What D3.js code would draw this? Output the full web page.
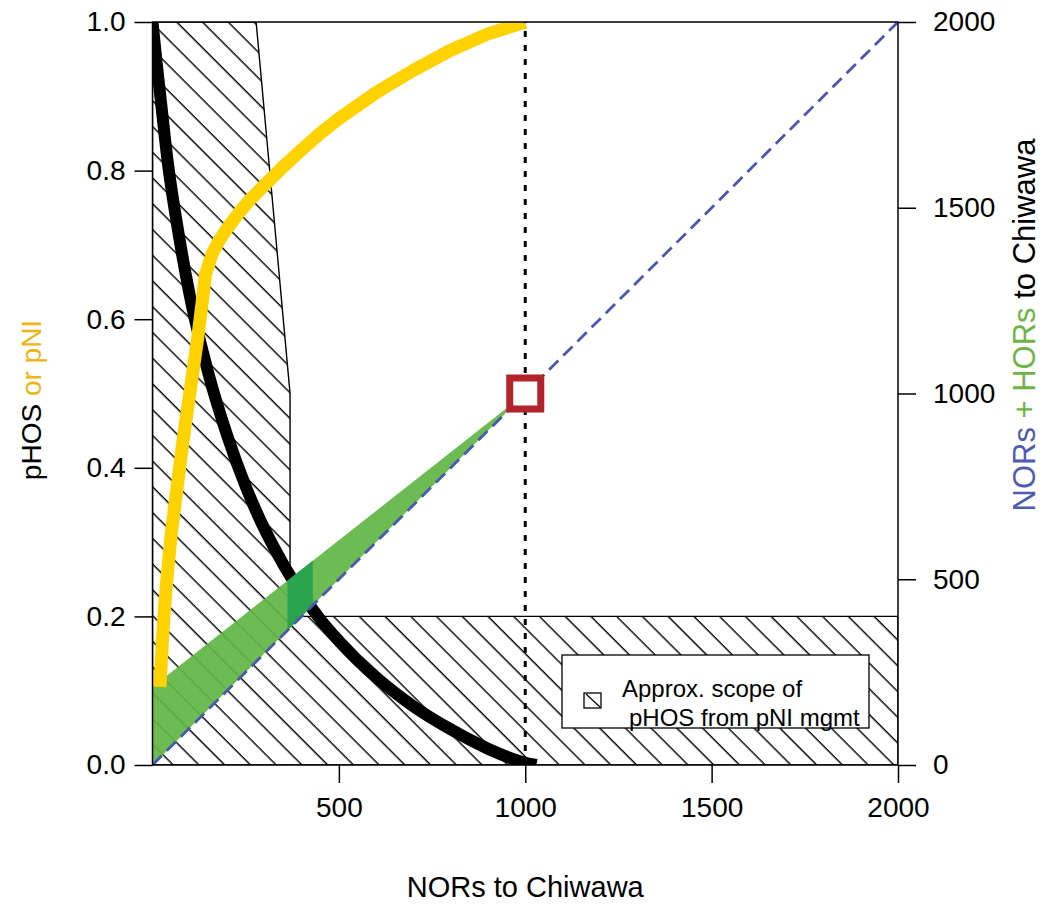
<!DOCTYPE html>
<html><head><meta charset="utf-8">
<script src="https://cdn.jsdelivr.net/npm/d3@7"></script>
<style>
html,body{margin:0;padding:0;background:#fff;}
svg text{font-family:"Liberation Sans",Arial,Helvetica,sans-serif;}
</style></head>
<body>
<svg id="chart" width="1045" height="914"></svg>
<script>
// ---------- data ----------
const xTicks = [500, 1000, 1500, 2000];
const leftTicks = [0, 0.2, 0.4, 0.6, 0.8, 1.0];
const rightTicks = [0, 500, 1000, 1500, 2000];

// pHOS (black curve)
const phosN = [0, 10, 20, 40, 70, 100, 150, 200, 250, 300, 350, 400, 450, 500, 600, 700, 800, 900, 1000, 1030];
const phosV = [1.0, 0.95, 0.905, 0.815, 0.715, 0.632, 0.527, 0.444, 0.375, 0.318, 0.271, 0.231, 0.196, 0.167, 0.118, 0.079, 0.048, 0.022, 0.003, 0.0];

// pNI (yellow curve)
const pniN = [20, 28, 36, 50, 65, 82, 100, 120, 134, 142, 160, 180, 200, 230, 260, 300, 350, 400, 450, 500, 600, 700, 800, 900, 1000];
const pniV = [0.105, 0.18, 0.236, 0.31, 0.37, 0.437, 0.50, 0.57, 0.626, 0.66, 0.688, 0.707, 0.722, 0.742, 0.76, 0.78, 0.805, 0.828, 0.85, 0.87, 0.905, 0.935, 0.962, 0.984, 1.0];

// NORs + HORs band (right axis)
const bandN = [0, 1000];
const bandBottom = [0, 1000];
const bandTop = [210, 1000];
const darkBandN = [362, 430];

// NORs line (right axis)
const lineN = [0, 2000];
const lineTotal = [0, 2000];

// hatched pHOS-from-pNI region (left axis)
const hatchN = [0, 2000, 2000, 369, 369, 278, 0];
const hatchV = [0, 0, 0.2, 0.2, 0.5, 1.0, 1.0];

// target marker
const markerN = 1000, markerTotal = 1000;
const vlineN = 1000;

const legendLines = ["Approx. scope of", "pHOS from pNI mgmt"];

// ---------- layout ----------
const svg = d3.select("#chart");
const L = 152.5, R = 898, T = 22, B = 765;
const x = d3.scaleLinear().domain([0, 2000]).range([L, R]);
const yL = d3.scaleLinear().domain([0, 1]).range([B, T]);
const yR = d3.scaleLinear().domain([0, 2000]).range([B, T]);

const defs = svg.append("defs");
defs.append("clipPath").attr("id", "clip").append("rect")
  .attr("x", L).attr("y", T).attr("width", R - L).attr("height", B - T);
const pat = defs.append("pattern").attr("id", "hatch")
  .attr("patternUnits", "userSpaceOnUse").attr("width", 40).attr("height", 18.2)
  .attr("patternTransform", "translate(152,22) rotate(45)");
pat.append("rect").attr("x", 0).attr("y", 0).attr("width", 40).attr("height", 1.4).attr("fill", "#000");

const g = svg.append("g").attr("clip-path", "url(#clip)");

// hatch polygon
const hatchPts = hatchN.map((n, i) => [x(n), yL(hatchV[i])]);
g.append("path").attr("d", d3.line()(hatchPts) + "Z")
  .attr("fill", "url(#hatch)").attr("stroke", "#000").attr("stroke-width", 1.4);

// black pHOS curve
g.append("path")
  .datum(phosN.map((n, i) => [n, phosV[i]]))
  .attr("d", d3.line().x(d => x(d[0])).y(d => yL(d[1])).curve(d3.curveMonotoneX))
  .attr("fill", "none").attr("stroke", "#000").attr("stroke-width", 12);

// green band
const bandPoly = [[bandN[0], bandBottom[0]], [bandN[0], bandTop[0]], [bandN[1], bandTop[1]]];
g.append("path").attr("d", d3.line().x(d => x(d[0])).y(d => yR(d[1]))(bandPoly) + "Z")
  .attr("fill", "#62B646").attr("fill-opacity", 0.93);
// darker segment of the band
const topAt = n => bandTop[0] + (bandTop[1] - bandTop[0]) * (n - bandN[0]) / (bandN[1] - bandN[0]);
const darkPoly = [[darkBandN[0], darkBandN[0]], [darkBandN[0], topAt(darkBandN[0])],
                  [darkBandN[1], topAt(darkBandN[1])], [darkBandN[1], darkBandN[1]]];
g.append("path").attr("d", d3.line().x(d => x(d[0])).y(d => yR(d[1]))(darkPoly) + "Z")
  .attr("fill", "#2AA34E");

// blue dashed line
g.append("line")
  .attr("x1", x(lineN[0])).attr("y1", yR(lineTotal[0]))
  .attr("x2", x(lineN[1])).attr("y2", yR(lineTotal[1]))
  .attr("stroke", "#4A58B0").attr("stroke-width", 2.8).attr("stroke-dasharray", "13,7");

// yellow pNI curve
g.append("path")
  .datum(pniN.map((n, i) => [n, pniV[i]]))
  .attr("d", d3.line().x(d => x(d[0])).y(d => yL(d[1])))
  .attr("fill", "none").attr("stroke", "#FFD200").attr("stroke-width", 13)
  .attr("stroke-linejoin", "round");

// dotted vertical line
g.append("line")
  .attr("x1", x(vlineN)).attr("x2", x(vlineN)).attr("y1", yL(0)).attr("y2", yL(1))
  .attr("stroke", "#000").attr("stroke-width", 3).attr("stroke-dasharray", "6,8");

// red square marker
svg.append("rect")
  .attr("x", x(markerN) - 15.5).attr("y", yR(markerTotal) - 15.5)
  .attr("width", 31).attr("height", 31)
  .attr("fill", "#fff").attr("stroke", "#B3232C").attr("stroke-width", 7);

// plot box
svg.append("rect").attr("x", L).attr("y", T).attr("width", R - L).attr("height", B - T)
  .attr("fill", "none").attr("stroke", "#000").attr("stroke-width", 1.5);

// axes
const axFont = 28;
const ax = d3.axisBottom(x).tickValues(xTicks).tickSize(18).tickPadding(14).tickFormat(d3.format("d"));
const gx = svg.append("g").attr("transform", `translate(0,${B})`).call(ax);
const ayl = d3.axisLeft(yL).tickValues(leftTicks).tickSize(18).tickPadding(9).tickFormat(d3.format(".1f"));
const gyl = svg.append("g").attr("transform", `translate(${L},0)`).call(ayl);
const ayr = d3.axisRight(yR).tickValues(rightTicks).tickSize(18).tickPadding(17).tickFormat(d3.format("d"));
const gyr = svg.append("g").attr("transform", `translate(${R},0)`).call(ayr);
[gx, gyl, gyr].forEach(a => {
  a.select(".domain").remove();
  a.selectAll(".tick line").attr("stroke", "#000").attr("stroke-width", 1.5);
  a.selectAll(".tick text").attr("font-size", axFont).attr("fill", "#000")
   .style("font-family", '"Liberation Sans",Arial,sans-serif');
});

// axis titles
svg.append("text").attr("x", (L + R) / 2).attr("y", 897).attr("text-anchor", "middle")
  .attr("font-size", 29).text("NORs to Chiwawa");

const lt = svg.append("text").attr("transform", `translate(41,400) rotate(-90)`)
  .attr("text-anchor", "middle").attr("font-size", 28);
lt.append("tspan").attr("fill", "#000").text("pHOS");
lt.append("tspan").attr("fill", "#F0B415").text(" or pNI");

const rt = svg.append("text").attr("transform", `translate(1035,325) rotate(-90)`)
  .attr("text-anchor", "middle").attr("font-size", 31);
rt.append("tspan").attr("fill", "#4F5BAE").text("NORs");
rt.append("tspan").attr("fill", "#6DB446").text(" + HORs");
rt.append("tspan").attr("fill", "#000").text(" to Chiwawa");

// legend
const lg = svg.append("g");
lg.append("rect").attr("x", 562).attr("y", 655).attr("width", 307).attr("height", 73)
  .attr("fill", "#fff").attr("stroke", "#000").attr("stroke-width", 1.3);
lg.append("rect").attr("x", 584).attr("y", 693).attr("width", 17).attr("height", 15)
  .attr("fill", "#fff").attr("stroke", "#000").attr("stroke-width", 1.3);
lg.append("line").attr("x1", 586).attr("y1", 694).attr("x2", 600).attr("y2", 707)
  .attr("stroke", "#000").attr("stroke-width", 1.2);
lg.append("text").attr("x", 622).attr("y", 697).attr("font-size", 24).text(legendLines[0]);
lg.append("text").attr("x", 629).attr("y", 726).attr("font-size", 24).text(legendLines[1]);
</script>
</body></html>
